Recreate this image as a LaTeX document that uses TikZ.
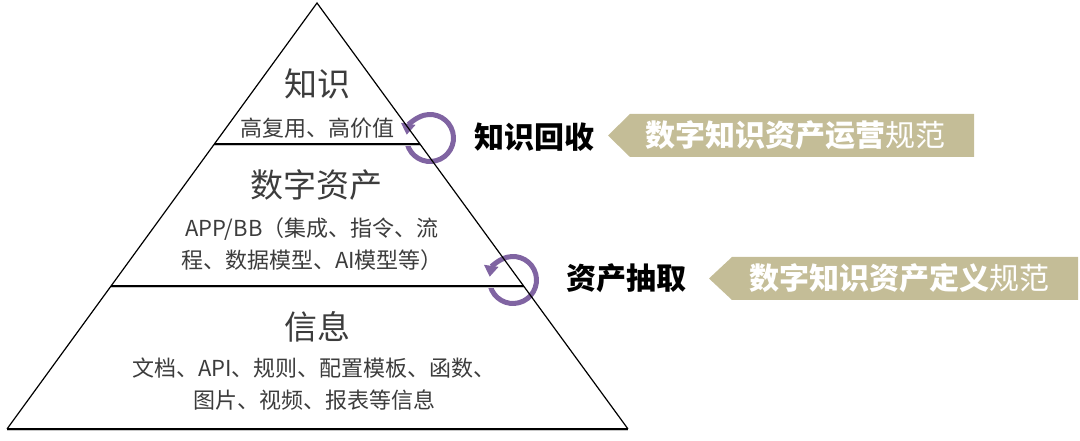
\documentclass[tikz,border=0pt]{standalone}
\usepackage{fontspec}
\setmainfont{Noto Sans CJK SC}
\usepackage{tikz}
\usetikzlibrary{calc}
\usetikzlibrary{arrows.meta}
\definecolor{ink}{RGB}{60,60,60}
\definecolor{loopc}{RGB}{128,100,162}
\definecolor{tanc}{RGB}{196,189,151}

\begin{document}
\begin{tikzpicture}[x=1pt,y=1pt,
		title/.style={text=ink,font=\fontsize{33}{40}\selectfont,inner sep=0pt},
		note/.style={text=ink,font=\fontsize{22}{32}\selectfont,align=center,inner sep=0pt},
		tag/.style={font=\bfseries\fontsize{30}{36}\selectfont,inner sep=0pt},
		band/.style={fill=tanc},
		bandtext/.style={text=white,font=\fontsize{30}{36}\selectfont,inner sep=0pt},
		cyc/.style={draw=loopc,line width=5pt,-{Triangle[length=11pt,width=14pt]}},
		edge/.style={line width=1.2pt},
		level/.style={line width=1.6pt},
		shade/.style={line width=1.6pt,black!22}]
		\useasboundingbox (0,0) rectangle (1080,441);
		% loops
		\coordinate (c1) at (430,303);
		\coordinate (c2) at (513,161);
		\draw[cyc] ($(c1)+(195:23.5)$) arc[start angle=195,delta angle=337,radius=23.5];
		\draw[cyc] ($(c2)+(195:23.5)$) arc[start angle=195,delta angle=337,radius=23.5];
		% pyramid
		\coordinate (apex) at (317,438);
		\coordinate (bl) at (7,12);
		\coordinate (br) at (628,12);
		\coordinate (l1) at ($(apex)!0.331!(bl)$);
		\coordinate (r1) at ($(apex)!0.331!(br)$);
		\coordinate (l2) at ($(apex)!0.664!(bl)$);
		\coordinate (r2) at ($(apex)!0.664!(br)$);
		\draw[shade] ([yshift=-1.6pt]l1) -- ([yshift=-1.6pt]r1);
		\draw[shade] ([yshift=-1.6pt]l2) -- ([yshift=-1.6pt]r2);
		\draw[shade] ([yshift=-1.6pt]bl) -- ([yshift=-1.6pt]br);
		\draw[edge] (bl) -- (apex) -- (br);
		\draw[level] (l1) -- (r1);
		\draw[level] (l2) -- (r2);
		\draw[level] (bl) -- (br);
		% levels
		\node[title] (know) at (317,357) {知识};
		\node[note] (knownote) at (317.5,313) {高复用、高价值};
		\node[title] (asset) at (316,256) {数字资产};
		\node[note] (assetnote) at (312,197) {APP/BB（集成、指令、流\\程、数据模型、AI模型等）};
		\node[title] (info) at (317.5,114) {信息};
		\node[note] (infonote) at (314,57) {文档、API、规则、配置模板、函数、\\图片、视频、报表等信息};
		% steps
		\node[tag] (recycle) at (534.5,304) {知识回收};
		\node[tag] (extract) at (626,163) {资产抽取};
		% rules
		\fill[band] (608,305.5) -- (630,327) -- (974,327) -- (974,284) -- (630,284) -- cycle;
		\node[bandtext] (ops) at (795.5,305.5) {\textbf{数字知识资产运营}规范};
		\fill[band] (709,162.5) -- (732,184) -- (1078,184) -- (1078,141) -- (732,141) -- cycle;
		\node[bandtext] (def) at (899,162.5) {\textbf{数字知识资产定义}规范};
	\end{tikzpicture}
\end{document}
